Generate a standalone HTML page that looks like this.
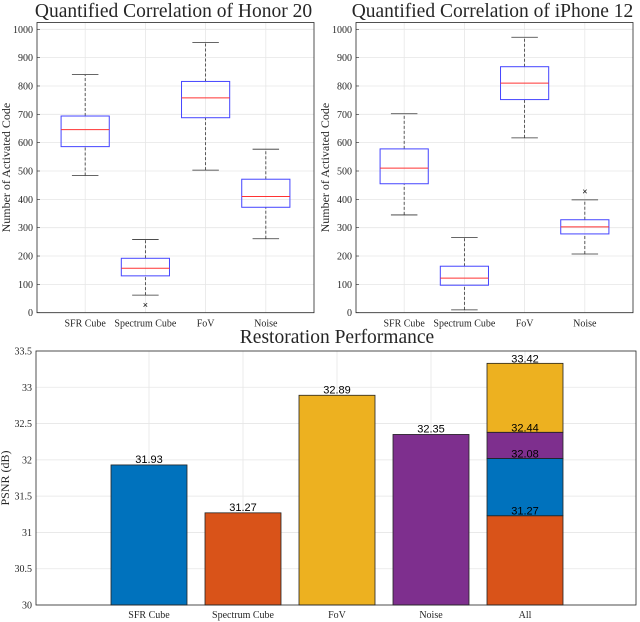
<!DOCTYPE html>
<html><head><meta charset="utf-8"><style>
body{margin:0;background:#fff}
svg{display:block}
text{font-family:"Liberation Serif","Times New Roman",serif;fill:#262626}
text.num{font-family:"Liberation Sans",Arial,sans-serif;fill:#000}
</style></head><body>
<svg id="svg" width="640" height="622" viewBox="0 0 640 622"></svg>
<script>
const boxCats=["SFR Cube","Spectrum Cube","FoV","Noise"];
// Honor 20: [whiskerLow, q1, median, q3, whiskerHigh]
const honorStats=[[484,586,646,694,840],[62,130,157,192,258],[503,688,758,816,953],[261,372,410,471,577]];
const honorOutliers=[[],[27],[],[]];
const iphoneStats=[[345,455,510,578,702],[10,97,122,164,265],[617,752,810,868,972],[207,278,303,328,398]];
const iphoneOutliers=[[],[],[],[428]];
const boxTicks=[0,100,200,300,400,500,600,700,800,900,1000];
const barCats=["SFR Cube","Spectrum Cube","FoV","Noise","All"];
const barVals=[31.93,31.27,32.89,32.35];
const barColors=["#0072BD","#D95319","#EDB120","#7E2F8E"];
const stackTops=[31.23,32.02,32.38,33.33];
const stackLabels=["31.27","32.08","32.44","33.42"];
const stackColors=["#D95319","#0072BD","#7E2F8E","#EDB120"];
const barTicks=[30,30.5,31,31.5,32,32.5,33,33.5];

const svg=document.getElementById('svg');
const NS="http://www.w3.org/2000/svg";
const SERIF='"Liberation Serif","Times New Roman",serif';
const SANS='"Liberation Sans",Arial,sans-serif';
function mk(tag,attrs,parent,txt){const e=document.createElementNS(NS,tag);for(const k in attrs)e.setAttribute(k,attrs[k]);if(tag==='text'&&!attrs['font-family'])e.setAttribute('font-family',attrs.class==='num'?SANS:SERIF);if(txt!==undefined)e.textContent=txt;(parent||svg).appendChild(e);return e;}

function boxPlot(x0,x1,title,stats,outliers,key){
  const g=mk('g',{});
  
  
  const yT=22.5,yB=312.7;
  const ys=v=>312.7-(v/1000)*(312.7-29.3);
  const unit=(x1-x0)/4.6;
  const xs=i=>x0+(0.8+i)*unit;
  boxTicks.forEach(t=>{
    const l=mk('line',{x1:x0,x2:x1,y1:ys(t),y2:ys(t),stroke:'#e6e6e6','stroke-width':0.8},g);
    
    const tx=mk('text',{x:x0-4,y:ys(t)+3.5,'text-anchor':'end','font-size':10},g,String(t));
    
    mk('line',{x1:x0,x2:x0+3,y1:ys(t),y2:ys(t),stroke:'#262626','stroke-width':0.6},g);
  });
  boxCats.forEach((c,i)=>{
    mk('line',{x1:xs(i),x2:xs(i),y1:yT,y2:yB,stroke:'#e6e6e6','stroke-width':0.8},g);
    const tx=mk('text',{x:xs(i),y:yB+14,'text-anchor':'middle','font-size':10},g,c);
    
  });
  mk('rect',{x:x0,y:yT,width:x1-x0,height:yB-yT,fill:'none',stroke:'#262626','stroke-width':0.8},g);
  stats.forEach((s,i)=>{
    const x=xs(i),hw=0.4*unit,cw=0.22*unit;
    const b=mk('g',{},g);
    
    
    mk('line',{x1:x,x2:x,y1:ys(s[0]),y2:ys(s[1]),stroke:'#333','stroke-dasharray':'3,2','stroke-width':0.8},b);
    mk('line',{x1:x,x2:x,y1:ys(s[3]),y2:ys(s[4]),stroke:'#333','stroke-dasharray':'3,2','stroke-width':0.8},b);
    mk('line',{x1:x-cw,x2:x+cw,y1:ys(s[0]),y2:ys(s[0]),stroke:'#333','stroke-width':0.8},b);
    mk('line',{x1:x-cw,x2:x+cw,y1:ys(s[4]),y2:ys(s[4]),stroke:'#333','stroke-width':0.8},b);
    mk('rect',{x:x-hw,y:ys(s[3]),width:2*hw,height:ys(s[1])-ys(s[3]),fill:'none',stroke:'#4444ff','stroke-width':1},b);
    mk('line',{x1:x-hw,x2:x+hw,y1:ys(s[2]),y2:ys(s[2]),stroke:'#ff3333','stroke-width':1},b);
    outliers[i].forEach(o=>{
      const t=mk('text',{x:x,y:ys(o)+3,'text-anchor':'middle','font-size':9,class:'num'},b,'×');
      
    });
  });
  const tt=mk('text',{x:(x0+x1)/2-2,y:17,'text-anchor':'middle','font-size':19.5,fill:'#000'},g,title);
  
  const yl=mk('text',{x:0,y:0,'text-anchor':'middle','font-size':12,transform:`translate(${x0-27},${(yT+yB)/2}) rotate(-90)`},g,'Number of Activated Code');
  
}
boxPlot(37,314,'Quantified Correlation of Honor 20',honorStats,honorOutliers,'honor20');
boxPlot(356,633,'Quantified Correlation of iPhone 12',iphoneStats,iphoneOutliers,'iphone12');

// bar chart
(function(){
  const g=mk('g',{});
  
  
  const x0=36,x1=636,yT=351,yB=605;
  const ys=v=>yB-(v-30)/3.5*(yB-yT);
  const xs=i=>149+i*94;
  const bw=76;
  barTicks.forEach(t=>{
    mk('line',{x1:x0,x2:x1,y1:ys(t),y2:ys(t),stroke:'#e6e6e6','stroke-width':0.8},g);
    const tx=mk('text',{x:x0-4,y:ys(t)+3.5,'text-anchor':'end','font-size':10},g,String(t));
    
  });
  barCats.forEach((c,i)=>{
    mk('line',{x1:xs(i),x2:xs(i),y1:yT,y2:yB,stroke:'#e6e6e6','stroke-width':0.8},g);
    const tx=mk('text',{x:xs(i),y:yB+13,'text-anchor':'middle','font-size':10},g,c);
    
  });
  barVals.forEach((v,i)=>{
    const r=mk('rect',{x:xs(i)-bw/2,y:ys(v),width:bw,height:yB-ys(v),fill:barColors[i],stroke:'#222','stroke-width':0.8},g);
    
    
    const t=mk('text',{x:xs(i),y:ys(v)-2,'text-anchor':'middle','font-size':11,class:'num'},g,v.toFixed(2));
    
  });
  let prev=30;
  stackTops.forEach((v,k)=>{
    const r=mk('rect',{x:xs(4)-bw/2,y:ys(v),width:bw,height:ys(prev)-ys(v),fill:stackColors[k],stroke:'#222','stroke-width':0.8},g);
    
    
    prev=v;
  });
  stackTops.forEach((v,k)=>{
    const t=mk('text',{x:xs(4),y:ys(v)-1,'text-anchor':'middle','font-size':11,class:'num'},g,stackLabels[k]);
    
  });
  mk('rect',{x:x0,y:yT,width:x1-x0,height:yB-yT,fill:'none',stroke:'#262626','stroke-width':0.8},g);
  const tt=mk('text',{x:337,y:343,'text-anchor':'middle','font-size':19.5,fill:'#000'},g,'Restoration Performance');
  
  const yl=mk('text',{x:0,y:0,'text-anchor':'middle','font-size':12,transform:`translate(9,478) rotate(-90)`},g,'PSNR (dB)');
  
})();
</script>
</body></html>
